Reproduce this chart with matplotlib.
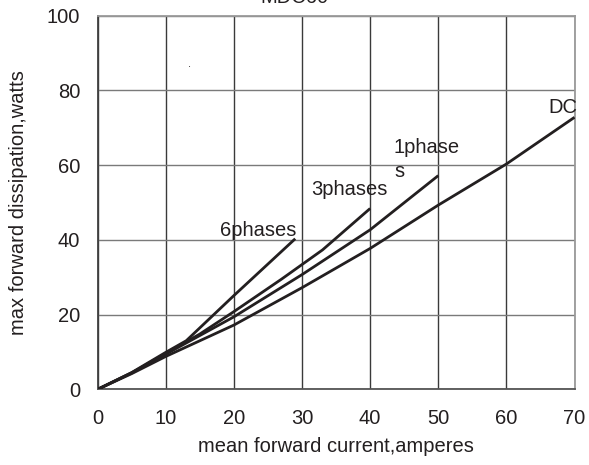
import matplotlib
matplotlib.use("Agg")
import matplotlib.pyplot as plt

plt.rcParams['font.family'] = ['Liberation Sans', 'DejaVu Sans']

# data
x_6ph = [0, 5, 10, 13, 20, 29]
y_6ph = [0, 4.5, 9.9, 13, 25.1, 40.3]
x_3ph = [0, 5, 10, 15, 20, 27, 33, 40]
y_3ph = [0, 4.4, 9.6, 14.8, 20.8, 29.5, 37.3, 48.4]
x_1ph = [0, 5, 10, 20, 30, 40, 50]
y_1ph = [0, 4.4, 9.4, 19.4, 30.7, 42.7, 57.2]
x_dc = [0, 5, 10, 20, 30, 40, 50, 60, 70]
y_dc = [0, 4.2, 8.8, 17.2, 27.2, 37.7, 49.3, 60.3, 72.8]

x_ticks = [0, 10, 20, 30, 40, 50, 60, 70]
y_ticks = [0, 20, 40, 60, 80, 100]

title = "MDC60"
xlabel = "mean forward current,amperes"
ylabel = "max forward dissipation,watts"

fig = plt.figure(figsize=(5.89, 4.65), dpi=100)
ax = fig.add_axes([97.7/589, 1-389.3/465, (574.5-97.7)/589, (389.3-15.7)/465])

lc = '#231f20'
lw = 2.0
ax.plot(x_6ph, y_6ph, color=lc, lw=lw, solid_capstyle='butt', zorder=3)
ax.plot(x_3ph, y_3ph, color=lc, lw=lw, solid_capstyle='butt', zorder=3)
ax.plot(x_1ph, y_1ph, color=lc, lw=lw, solid_capstyle='butt', zorder=3)
ax.plot(x_dc, y_dc, color=lc, lw=lw, solid_capstyle='butt', zorder=3)

fs = 14.5
ax.text(17.9, 42.6, "6phases", ha='left', va='center', fontsize=fs, color='#231f20')
ax.text(31.3, 53.5, "3phases", ha='left', va='center', fontsize=fs, color='#231f20')
ax.text(43.4, 64.8, "1phase", ha='left', va='center', fontsize=fs, color='#231f20')
ax.text(43.6, 58.2, "s", ha='left', va='center', fontsize=fs, color='#231f20')
ax.text(66.1, 75.5, "DC", ha='left', va='center', fontsize=fs, color='#231f20')
ax.text(13.5, 87, ".", ha='center', va='center', fontsize=8, color='#231f20')

ax.set_xlim(0, 70)
ax.set_ylim(0, 100)
ax.set_xticks(x_ticks)
ax.set_yticks(y_ticks)
ax.tick_params(axis='both', length=0, labelsize=fs, colors='#231f20')
ax.tick_params(axis='x', pad=14)
ax.tick_params(axis='y', pad=12.5)

ax.xaxis.grid(True, color='#3a3a3a', lw=1.0)
ax.yaxis.grid(True, color='#7a7a7a', lw=1.0)
ax.set_axisbelow(True)

ax.spines['left'].set_color('#404040')
ax.spines['bottom'].set_color('#555555')
ax.spines['top'].set_color('#9a9a9a')
ax.spines['right'].set_color('#9a9a9a')
for s in ax.spines.values():
    s.set_linewidth(1.3)

ax.set_xlabel(xlabel, fontsize=fs, labelpad=7, color='#231f20')
ax.set_ylabel(ylabel, fontsize=fs, labelpad=14, color='#231f20')

fig.text(0.5, 1 - 3/465, title, ha='center', va='baseline', fontsize=fs, color='#231f20')

fig.savefig("out.png", dpi=100)
